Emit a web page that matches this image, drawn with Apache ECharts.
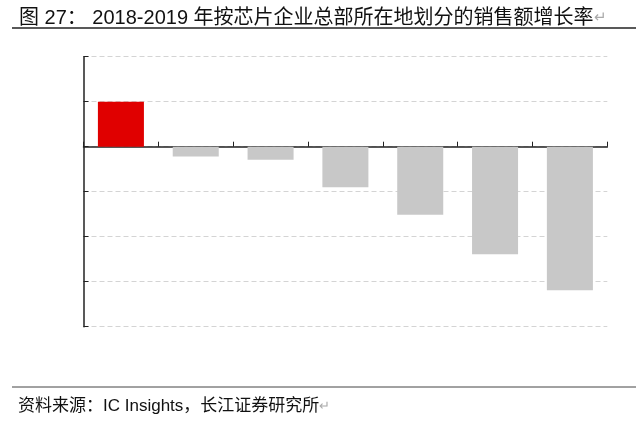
<!DOCTYPE html>
<html>
<head>
<meta charset="utf-8">
<script src="https://cdn.jsdelivr.net/npm/echarts@6/dist/echarts.min.js"></script>
<style>
  html, body { margin: 0; padding: 0; background: #fff; }
  #main { width: 640px; height: 423px; }
</style>
</head>
<body>
<div id="main"></div>
<script>
// 类别（原图未显示标签）
var categories = ['地区1', '地区2', '地区3', '地区4', '地区5', '地区6', '地区7'];
// 2018-2019 销售额增长率（%）
var growth = [10, -2.2, -2.9, -9.0, -15.1, -23.9, -31.9];
var yTicks = [-40, -30, -20, -10, 0, 10, 20];

var font = '"Liberation Sans", Arial, "Noto Sans CJK SC", sans-serif';

var chart = echarts.init(document.getElementById('main'));

var option = {
  backgroundColor: '#ffffff',
  animation: false,
  title: [
    {
      text: '图 27： 2018-2019 年按芯片企业总部所在地划分的销售额增长率{r|↵}',
      left: 14,
      top: 3,
      textStyle: {
        fontFamily: font,
        fontSize: 20,
        fontWeight: 'normal',
        color: '#111',
        rich: { r: { fontSize: 15, color: '#aaa', fontFamily: font } }
      }
    },
    {
      text: '资料来源：IC Insights，长江证券研究所{r|↵}',
      left: 13,
      top: 393,
      textStyle: {
        fontFamily: font,
        fontSize: 17,
        fontWeight: 'normal',
        color: '#111',
        rich: { r: { fontSize: 13, color: '#aaa', fontFamily: font } }
      }
    }
  ],
  graphic: [
    { type: 'line', shape: { x1: 12, y1: 28, x2: 636, y2: 28 }, style: { stroke: '#222', lineWidth: 1.5 } },
    { type: 'line', shape: { x1: 12, y1: 387, x2: 636, y2: 387 }, style: { stroke: '#444', lineWidth: 1 } }
  ],
  grid: {
    left: 83.5,
    right: 32.7,
    top: 56.7,
    bottom: 96.3,
    containLabel: false
  },
  xAxis: {
    type: 'category',
    data: categories,
    axisLine: { onZero: true, lineStyle: { color: '#222', width: 1.5 } },
    axisTick: { show: true, inside: true, length: 5, lineStyle: { color: '#222', width: 1 } },
    axisLabel: { show: false },
    splitLine: { show: false }
  },
  yAxis: {
    type: 'value',
    min: yTicks[0],
    max: yTicks[yTicks.length - 1],
    interval: 10,
    axisLine: { show: true, lineStyle: { color: '#222', width: 1.5 } },
    axisTick: { show: true, inside: true, length: 5, lineStyle: { color: '#222', width: 1 } },
    axisLabel: { show: false },
    splitLine: { show: true, lineStyle: { color: '#d4d4d4', type: [5, 3], width: 1 } }
  },
  series: [
    {
      type: 'bar',
      barWidth: '61.5%',
      data: growth.map(function (v) {
        return {
          value: v,
          itemStyle: { color: v > 0 ? '#e00000' : '#c8c8c8' }
        };
      })
    }
  ]
};

chart.setOption(option);
</script>
</body>
</html>
